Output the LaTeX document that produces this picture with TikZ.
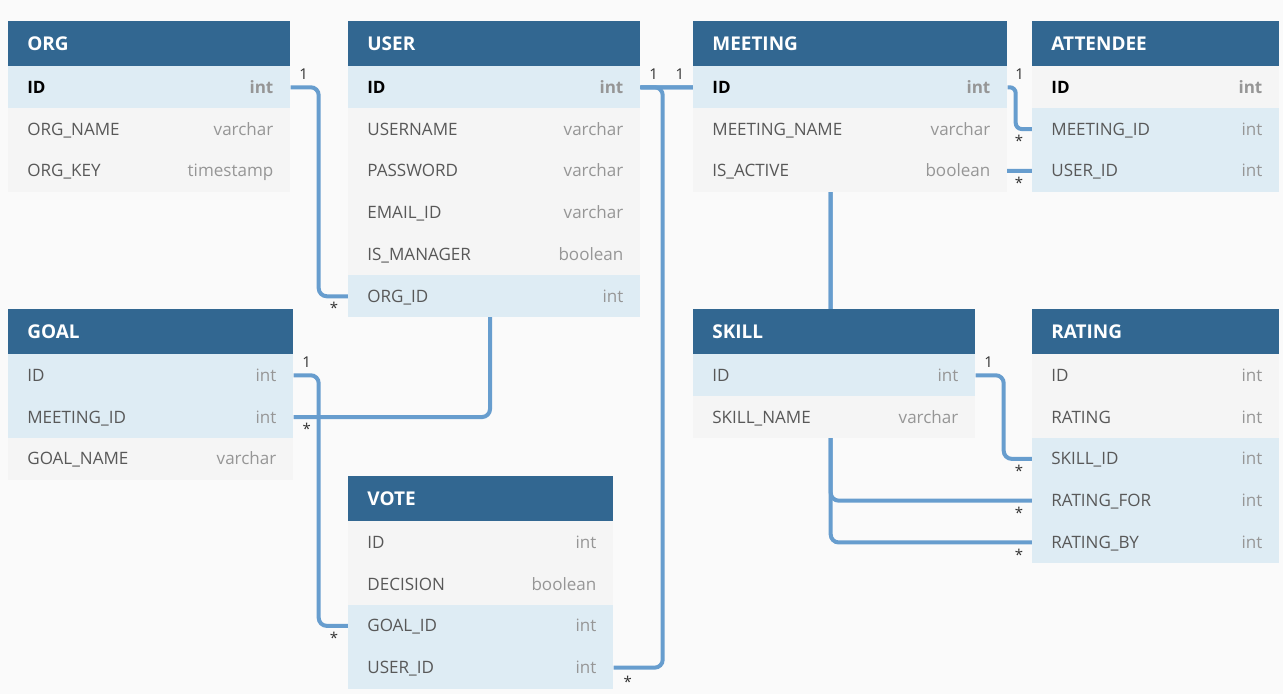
\documentclass[tikz,border=0pt]{standalone}
\usepackage{fontspec}
\setmainfont{Open Sans}
\usetikzlibrary{positioning}

\definecolor{headblue}{RGB}{50,103,145}
\definecolor{keyrow}{RGB}{222,236,244}
\definecolor{plainrow}{RGB}{245,245,245}
\definecolor{canvas}{RGB}{250,250,250}
\definecolor{linkblue}{RGB}{103,157,206}
\definecolor{namegray}{RGB}{88,88,88}
\definecolor{typegray}{RGB}{150,150,150}
\definecolor{multgray}{RGB}{50,50,50}

\pgfdeclarelayer{background}
\pgfsetlayers{background,main}

\newcommand\erfield{\fontsize{9.7}{12}\selectfont}
\newcommand\erhead{\fontsize{10.8}{12}\selectfont\bfseries}

% table: name, x, y, width, title, fields (key/name/type/kind)
\newcommand\ertable[6]{%
	\node[tablehead, minimum width=#4*0.02cm] (#1) at (#2,#3) {};
	\node[tabletitle] (#1-title) at ([shift={(19,7)}]#1.west) {#5};
	\foreach \key/\fname/\ftype/\kind [count=\i] in {#6}{
		\node[\kind, minimum width=#4*0.02cm] (#1-\key) at (#2,{#3+45+(\i-1)*41.8}) {};
		\node[\kind-n] (#1-\key-n) at ([shift={(19,6)}]#1-\key.west) {\fname};
		\node[\kind-t] (#1-\key-t) at ([shift={(-17,6)}]#1-\key.east) {\ftype};
	}%
}

\begin{document}
\begin{tikzpicture}[
		x = 0.02cm, y = -0.02cm,
		tablehead/.style = {rectangle, fill=headblue, anchor=north west, minimum height=0.9cm, inner sep=0pt},
		tabletitle/.style = {anchor=base west, inner sep=0pt, text=white, font=\erhead},
		fieldrow/.style = {rectangle, anchor=north west, minimum height=0.836cm, inner sep=0pt},
		fieldname/.style = {anchor=base west, inner sep=0pt, text=namegray, font=\erfield},
		fieldtype/.style = {anchor=base east, inner sep=0pt, text=typegray, font=\erfield},
		pk/.style = {fieldrow, fill=keyrow},
		pk-n/.style = {fieldname, text=black, font=\erfield\bfseries},
		pk-t/.style = {fieldtype, font=\erfield\bfseries},
		pkg/.style = {fieldrow, fill=plainrow},
		pkg-n/.style = {pk-n},
		pkg-t/.style = {pk-t},
		fk/.style = {fieldrow, fill=keyrow},
		fk-n/.style = {fieldname},
		fk-t/.style = {fieldtype},
		col/.style = {fieldrow, fill=plainrow},
		col-n/.style = {fieldname},
		col-t/.style = {fieldtype},
		link/.style = {draw=linkblue, line width=0.08cm, rounded corners=0.16cm},
		mult/.style = {inner sep=0pt, text=multgray, font=\fontsize{8.5}{9}\selectfont}
	]

	\ertable{org}{8}{21}{282}{ORG}{id/ID/int/pk, orgname/ORG\_NAME/varchar/col, orgkey/ORG\_KEY/timestamp/col}
	\ertable{user}{348}{21}{292}{USER}{id/ID/int/pk, username/USERNAME/varchar/col, password/PASSWORD/varchar/col, emailid/EMAIL\_ID/varchar/col, ismanager/IS\_MANAGER/boolean/col, orgid/ORG\_ID/int/fk}
	\ertable{meeting}{693}{21}{314}{MEETING}{id/ID/int/pk, meetingname/MEETING\_NAME/varchar/col, isactive/IS\_ACTIVE/boolean/col}
	\ertable{attendee}{1032}{21}{247}{ATTENDEE}{id/ID/int/pkg, meetingid/MEETING\_ID/int/fk, userid/USER\_ID/int/fk}
	\ertable{goal}{8}{309}{285}{GOAL}{id/ID/int/fk, meetingid/MEETING\_ID/int/fk, goalname/GOAL\_NAME/varchar/col}
	\ertable{skill}{693}{309}{282}{SKILL}{id/ID/int/fk, skillname/SKILL\_NAME/varchar/col}
	\ertable{rating}{1032}{309}{247}{RATING}{id/ID/int/col, rating/RATING/int/col, skillid/SKILL\_ID/int/fk, ratingfor/RATING\_FOR/int/fk, ratingby/RATING\_BY/int/fk}
	\ertable{vote}{348}{476}{265}{VOTE}{id/ID/int/col, decision/DECISION/boolean/col, goalid/GOAL\_ID/int/fk, userid/USER\_ID/int/fk}

	\begin{pgfonlayer}{background}
		\fill[canvas] (0,0) rectangle (1283,694);

		\path (meeting-id.west) ++(-203,0) coordinate (meetbend);
		\path (user-id.east) ++(190,0) coordinate (ratebend);

		\draw[link] (org-id.east) -- ++(28,0) |- (user-orgid.west);
		\draw[link] (goal-id.east) -- ++(25,0) |- (vote-goalid.west);
		\draw[link] (goal-meetingid.east) -| (meetbend) -- (meeting-id.west);
		\draw[link] (user-id.east) -- (ratebend) |- (rating-ratingby.west);
		\draw[link] (ratebend) |- (rating-ratingfor.west);
		\draw[link] (user-id.east) -- ++(22,0) |- (vote-userid.east);
		\draw[link] (attendee-userid.west) -| (ratebend);
		\draw[link, rounded corners=0.12cm] (meeting-id.east) -- ++(8,0) |- (attendee-meetingid.west);
		\draw[link] (skill-id.east) -- ++(28,0) |- (rating-skillid.west);
	\end{pgfonlayer}

	% multiplicities
	\node[mult] (one-org) at ([shift={(13,-13)}]org-id.east) {1};
	\node[mult] (one-user) at ([shift={(13,-13)}]user-id.east) {1};
	\node[mult] (one-meeting) at ([shift={(-13,-13)}]meeting-id.west) {1};
	\node[mult] (one-attendee) at ([shift={(12,-13)}]meeting-id.east) {1};
	\node[mult] (one-goal) at ([shift={(13,-13)}]goal-id.east) {1};
	\node[mult] (one-skill) at ([shift={(13,-13)}]skill-id.east) {1};

	\node[mult] (many-orgid) at ([shift={(-14,12)}]user-orgid.west) {*};
	\node[mult] (many-goal) at ([shift={(13,12)}]goal-meetingid.east) {*};
	\node[mult] (many-goalid) at ([shift={(-14,12)}]vote-goalid.west) {*};
	\node[mult] (many-voteuser) at ([shift={(14,14)}]vote-userid.east) {*};
	\foreach \key in {meetingid,userid}
		\node[mult] (many-\key) at ([shift={(-13,12)}]attendee-\key.west) {*};
	\foreach \key in {skillid,ratingfor,ratingby}
		\node[mult] (many-\key) at ([shift={(-13,12)}]rating-\key.west) {*};

\end{tikzpicture}
\end{document}
